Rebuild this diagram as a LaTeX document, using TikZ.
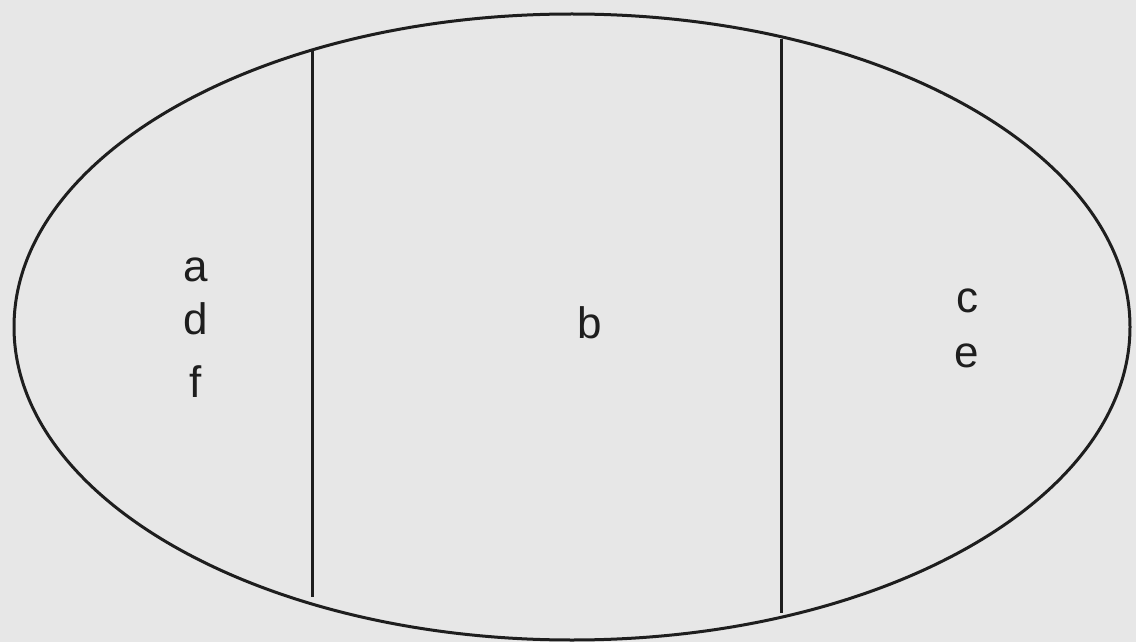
\documentclass[tikz,border=0pt]{standalone}
\usepackage{fontspec}
\setmainfont{Liberation Sans}
\usetikzlibrary{shapes.geometric}
\definecolor{paper}{HTML}{E7E7E7}
\definecolor{ink}{HTML}{1E1E1E}
\begin{document}
\begin{tikzpicture}[x=0.5pt,y=-0.5pt,
  letter/.style={anchor=base,inner sep=0pt,text=ink,font=\fontsize{22}{26}\selectfont},
  divider/.style={draw=ink,line width=1.5pt}]
\fill[paper] (0,0) rectangle (1136,642);
\useasboundingbox (0,0) rectangle (1136,642);
\node (oval) [draw=ink,line width=1.5pt,ellipse,inner sep=0pt,
  minimum width=558pt,minimum height=313pt] at (572,327) {};
\coordinate (l1) at (312,50);
\coordinate (l2) at (312,597);
\coordinate (r1) at (781,39);
\coordinate (r2) at (781,613);
\draw[divider] (l1) -- (l2);
\draw[divider] (r1) -- (r2);
\node[letter] (a) at (196,281) {a};
\node[letter] (d) at (196,334) {d};
\node[letter] (f) at (196,397) {f};
\node[letter] (b) at (590,338) {b};
\node[letter] (c) at (967,312) {c};
\node[letter] (e) at (967,367) {e};
\end{tikzpicture}
\end{document}
